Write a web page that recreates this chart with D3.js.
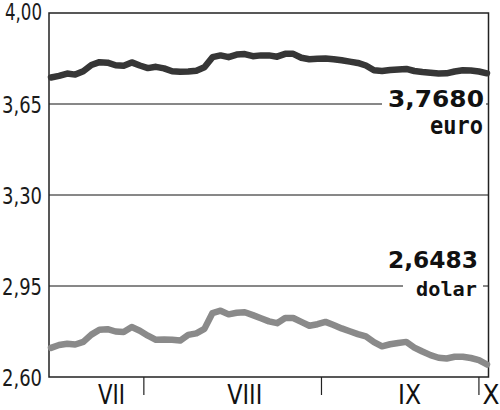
<!DOCTYPE html>
<html>
<head>
<meta charset="utf-8">
<script src="https://cdn.jsdelivr.net/npm/d3@7"></script>
<style>
  html, body { margin: 0; padding: 0; background: #fff; }
  svg { display: block; }
</style>
</head>
<body>
<svg id="chart" width="500" height="410"></svg>
<script>
// ---- data ----
const months = ["VII", "VIII", "IX", "X"];
const monthLabelPos = [7.5, 24.0, 44.4, 54.5];   // index positions of month labels
const monthTicks = [11.5, 33.5, 53.0];           // boundaries between months (index units)
const yTicks = [4.00, 3.65, 3.30, 2.95, 2.60];
const yTickLabels = ["4,00", "3,65", "3,30", "2,95", "2,60"];

const euro = [3.752, 3.758, 3.767, 3.763, 3.776, 3.800, 3.811, 3.809, 3.799, 3.797,
  3.810, 3.798, 3.788, 3.793, 3.787, 3.776, 3.774, 3.775, 3.778, 3.791,
  3.830, 3.837, 3.830, 3.840, 3.842, 3.834, 3.837, 3.837, 3.832, 3.843,
  3.843, 3.828, 3.822, 3.824, 3.825, 3.822, 3.818, 3.813, 3.808, 3.798,
  3.780, 3.777, 3.781, 3.783, 3.785, 3.777, 3.773, 3.770, 3.767, 3.768,
  3.775, 3.780, 3.779, 3.775, 3.768];
const dolar = [2.712, 2.723, 2.728, 2.725, 2.735, 2.763, 2.782, 2.784, 2.775, 2.773,
  2.792, 2.778, 2.759, 2.743, 2.744, 2.743, 2.740, 2.762, 2.768, 2.785,
  2.846, 2.855, 2.841, 2.847, 2.849, 2.838, 2.826, 2.814, 2.807, 2.827,
  2.827, 2.812, 2.797, 2.803, 2.812, 2.800, 2.787, 2.776, 2.765, 2.756,
  2.734, 2.718, 2.726, 2.731, 2.735, 2.713, 2.698, 2.684, 2.674, 2.671,
  2.678, 2.678, 2.673, 2.665, 2.648];
const lastLabels = [
  { value: "3,7680", name: "euro", series: "euro" },
  { value: "2,6483", name: "dolar", series: "dolar" }
];

// ---- layout ----
const svg = d3.select("#chart");
const L = 49, R = 488.5, T = 13, B = 377;
const x = d3.scaleLinear().domain([0, euro.length - 1]).range([51, 487]);
const y = d3.scaleLinear().domain([2.60, 4.00]).range([B, T]);

const axisFont = "'DejaVu Sans Condensed', 'DejaVu Sans', sans-serif";

// gridlines
svg.append("g").selectAll("line").data(yTicks.slice(1, 4)).join("line")
  .attr("x1", L).attr("x2", R)
  .attr("y1", d => y(d)).attr("y2", d => y(d))
  .attr("stroke", "#111").attr("stroke-width", 1);

// y labels
const yAxis = d3.axisLeft(y).tickValues(yTicks).tickSize(0)
  .tickFormat((d, i) => yTickLabels[i]);
const ya = svg.append("g").attr("transform", `translate(${L},0)`).call(yAxis);
ya.select(".domain").remove();
ya.selectAll("text")
  .attr("x", -7)
  .attr("dy", (d, i) => i === 0 ? "0.3em" : "0.36em")
  .attr("textLength", (d, i) => i === 0 ? 37 : 40)
  .attr("lengthAdjust", "spacingAndGlyphs")
  .style("font-family", axisFont).style("font-size", "23px").attr("fill", "#1a1a1a");

// x month ticks
svg.append("g").selectAll("line").data(monthTicks).join("line")
  .attr("x1", d => x(d)).attr("x2", d => x(d))
  .attr("y1", B).attr("y2", B + 18)
  .attr("stroke", "#222").attr("stroke-width", 1.2);

const monthWidths = [27, 35, 23, 17];
svg.append("g").selectAll("text").data(months).join("text")
  .attr("x", (d, i) => x(monthLabelPos[i]) - monthWidths[i] / 2)
  .attr("y", 404)
  .attr("textLength", (d, i) => monthWidths[i])
  .attr("lengthAdjust", "spacingAndGlyphs")
  .style("font-family", axisFont).style("font-size", "27px").attr("fill", "#111")
  .text(d => d);

// label backgrounds + labels
const labelCfg = {
  euro: { vy: 107, ny: 134, rx: 484, nrx: 483, vw: 96, nw: 53, nfs: 24, vpad: 6, npad: 6 },
  dolar: { vy: 268, ny: 296, rx: 478, nrx: 477, vw: 90, nw: 61, nfs: 20, vpad: 6, npad: 13 }
};
lastLabels.forEach(l => {
  const c = labelCfg[l.series];
  const g = svg.append("g");
  const bg1 = g.append("rect").attr("fill", "#fff");
  const bg2 = g.append("rect").attr("fill", "#fff");
  const t1 = g.append("text").attr("x", c.rx - c.vw).attr("y", c.vy)
    .attr("textLength", c.vw).attr("lengthAdjust", "spacingAndGlyphs")
    .style("font-family", "'DejaVu Sans', sans-serif").style("font-weight", "bold")
    .style("font-size", "23px").attr("fill", "#111").text(l.value);
  const t2 = g.append("text").attr("x", c.nrx - c.nw).attr("y", c.ny)
    .attr("textLength", c.nw).attr("lengthAdjust", "spacingAndGlyphs")
    .style("font-family", "'DejaVu Sans Mono', monospace").style("font-weight", "bold")
    .style("font-size", c.nfs + "px").attr("fill", "#111").text(l.name);
  const b1 = t1.node().getBBox(), b2 = t2.node().getBBox();
  bg1.attr("x", b1.x - c.vpad).attr("y", b1.y).attr("width", b1.width + c.vpad + 2).attr("height", b1.height);
  bg2.attr("x", b2.x - c.npad).attr("y", b2.y).attr("width", b2.width + c.npad + 6).attr("height", b2.height);
});

// frame (drawn above label backgrounds)
svg.append("path")
  .attr("d", `M${L},${T}H${R}V${B}H${L}Z`)
  .attr("fill", "none").attr("stroke", "#222").attr("stroke-width", 1.5);

// lines
const line = d3.line().x((d, i) => x(i)).y(d => y(d)).curve(d3.curveLinear);
svg.append("path").datum(dolar).attr("d", line)
  .attr("fill", "none").attr("stroke", "#8a8a8a").attr("stroke-width", 6.5)
  .attr("stroke-linejoin", "round").attr("stroke-linecap", "round");
svg.append("path").datum(euro).attr("d", line)
  .attr("fill", "none").attr("stroke", "#363636").attr("stroke-width", 6.5)
  .attr("stroke-linejoin", "round").attr("stroke-linecap", "round");
</script>
</body>
</html>
